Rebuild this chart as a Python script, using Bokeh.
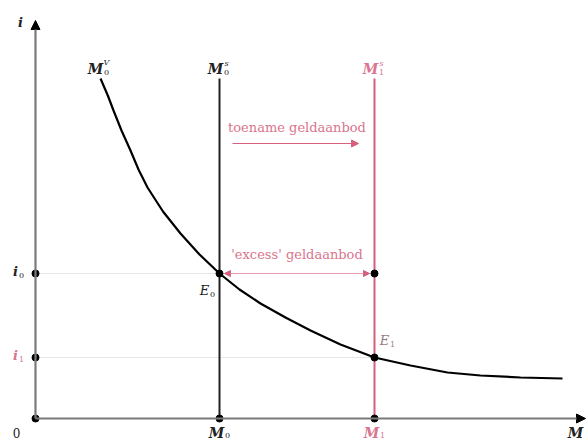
from bokeh.plotting import figure
from bokeh.models import Range1d, Arrow, NormalHead
from bokeh.core.properties import value
from bokeh.embed import file_html
from bokeh.resources import INLINE

# ---- data (abstract units) ----
M_values = [3.68, 6.78]          # M0, M1
i_values = [2.90, 1.22]          # i0, i1
supply_top = 6.8                  # top of the money-supply lines
curve_x = [1.30, 1.45, 1.56, 1.72, 1.90, 2.06, 2.24, 2.55, 2.90, 3.28, 3.68,
           4.08, 4.50, 5.00, 5.50, 6.10, 6.78, 7.50, 8.24, 8.90, 9.70, 10.54]
curve_y = [6.80, 6.45, 6.16, 5.76, 5.36, 4.98, 4.62, 4.14, 3.70, 3.28, 2.90,
           2.58, 2.30, 2.02, 1.76, 1.48, 1.22, 1.06, 0.92, 0.86, 0.82, 0.80]
x_axis_end = 11.0
y_axis_end = 7.96

PINK = "#d4607e"
PINK_TXT = "#d9758e"
DARK = "#222222"
SERIF = "DejaVu Serif"

p = figure(width=588, height=441, output_backend="svg", toolbar_location=None,
           x_range=Range1d(-0.7, 11.06), y_range=Range1d(-0.46, 8.36),
           min_border=0)
p.axis.visible = False
p.grid.visible = False
p.outline_line_color = None
p.background_fill_color = "white"

M0, M1 = M_values
i0, i1 = i_values

# guide lines
p.segment(x0=[0, 0], y0=[i0, i1], x1=[M1, M1], y1=[i0, i1],
          line_color="#e6e6e6", line_width=1.2)

# axes with arrowheads
p.add_layout(Arrow(x_start=0, y_start=0, x_end=0, y_end=y_axis_end,
                   line_color="#7a7a7a", line_width=2.2,
                   end=NormalHead(size=9, fill_color="black", line_color="black")))
p.add_layout(Arrow(x_start=0, y_start=0, x_end=x_axis_end, y_end=0,
                   line_color="#7a7a7a", line_width=2.2,
                   end=NormalHead(size=9, fill_color="black", line_color="black")))

# money supply lines
p.segment(x0=[M0], y0=[0], x1=[M0], y1=[supply_top], line_color=DARK, line_width=2)
p.segment(x0=[M1], y0=[0], x1=[M1], y1=[supply_top], line_color=PINK, line_width=2)

# money demand curve
p.line(curve_x, curve_y, line_color="black", line_width=2.2)

# arrows
p.add_layout(Arrow(x_start=M0 + 0.26, y_start=5.5, x_end=M1 - 0.32, y_end=5.5,
                   line_color=PINK, line_width=1,
                   end=NormalHead(size=7, fill_color=PINK, line_color=PINK)))
p.add_layout(Arrow(x_start=M0 + 0.1, y_start=i0, x_end=M1 - 0.1, y_end=i0,
                   line_color="#e89aae", line_width=1.2,
                   start=NormalHead(size=6, fill_color=PINK, line_color=PINK),
                   end=NormalHead(size=6, fill_color=PINK, line_color=PINK)))

# dots
p.scatter(x=[0, 0, 0, M0, M1, M0, M1, M1], y=[i0, i1, 0, 0, 0, i0, i0, i1],
          size=7, color="black")

def txt(x, y, s, color=DARK, size=14, style="italic", xo=0, yo=0, align="center"):
    p.text(x=[x], y=[y], text=[s], text_color=color, text_font=value(SERIF),
           text_font_size=f"{size}px", text_font_style=style,
           text_align=align, text_baseline="middle", x_offset=xo, y_offset=yo)

# annotations
txt((M0 + M1) / 2, 5.5, "toename geldaanbod", color=PINK_TXT, style="normal", size=13, yo=-16)
txt((M0 + M1) / 2, i0, "'excess' geldaanbod", color=PINK_TXT, style="normal", size=13, yo=-19)

# curve / line labels
txt(curve_x[0], supply_top, "M", style="bold italic", size=14, xo=-5, yo=-10)
txt(curve_x[0], supply_top, "0", style="normal", size=8, xo=6, yo=-6)
txt(curve_x[0], supply_top, "V", style="italic", size=8, xo=6, yo=-16)

txt(M0, supply_top, "M", style="bold italic", size=14, xo=-4, yo=-10)
txt(M0, supply_top, "0", style="normal", size=8, xo=7, yo=-6)
txt(M0, supply_top, "s", style="italic", size=8, xo=7, yo=-15)

txt(M1, supply_top, "M", color=PINK_TXT, style="bold italic", size=14, xo=-4, yo=-10)
txt(M1, supply_top, "1", color=PINK_TXT, style="normal", size=8, xo=7, yo=-6)
txt(M1, supply_top, "s", color=PINK_TXT, style="italic", size=8, xo=7, yo=-15)

# axis labels
txt(0, y_axis_end, "i", style="bold italic", size=13, xo=-15, yo=2)
txt(0, i0, "i", style="bold italic", size=13, xo=-20, yo=-2)
txt(0, i0, "0", style="normal", size=8, xo=-14, yo=2)
txt(0, i1, "i", color=PINK_TXT, style="bold italic", size=13, xo=-20, yo=-2)
txt(0, i1, "1", color=PINK_TXT, style="normal", size=8, xo=-14, yo=2)
txt(0, 0, "0", style="normal", size=12, xo=-19, yo=14)

txt(M0, 0, "M", style="bold italic", size=14, xo=-3, yo=14)
txt(M0, 0, "0", style="normal", size=8, xo=8, yo=17)
txt(M1, 0, "M", color=PINK_TXT, style="bold italic", size=14, xo=-3, yo=14)
txt(M1, 0, "1", color=PINK_TXT, style="normal", size=8, xo=8, yo=17)
txt(x_axis_end, 0, "M", style="bold italic", size=14, xo=-10, yo=14)

txt(M0, i0, "E", style="italic", size=13, xo=-15, yo=17)
txt(M0, i0, "0", style="normal", size=8, xo=-7, yo=21)
txt(M1, i1, "E", color="#9a7a80", style="italic", size=13, xo=10, yo=-17)
txt(M1, i1, "1", color="#9a7a80", style="normal", size=8, xo=18, yo=-13)

open("out.html", "w").write(file_html(p, INLINE))
